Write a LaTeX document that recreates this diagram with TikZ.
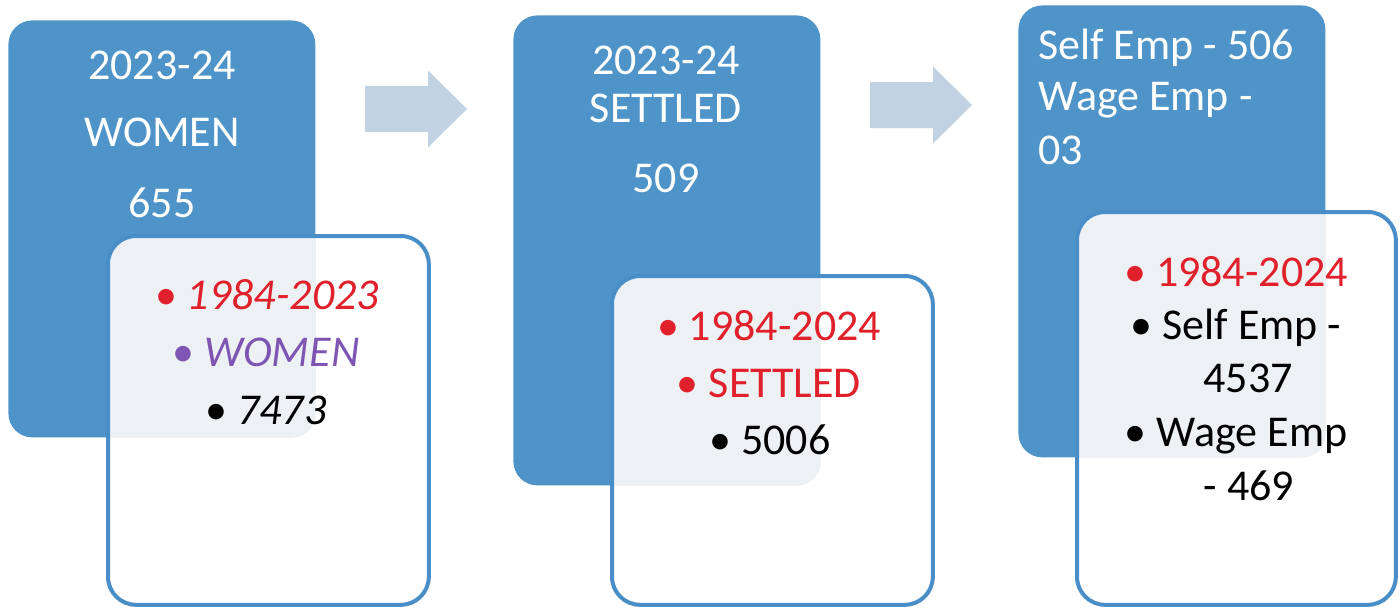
\documentclass[tikz,border=0pt]{standalone}
\usepackage{fontspec}
\setmainfont{Carlito}
\definecolor{boxblue}{HTML}{4F94C9}
\definecolor{edgeblue}{HTML}{4A8EC8}
\definecolor{arrowblue}{HTML}{C1D3E3}
\definecolor{txtred}{HTML}{E0202A}
\definecolor{txtpurple}{HTML}{7E55B3}
\definecolor{veil}{HTML}{EEF1F4}
\begin{document}
\begin{tikzpicture}[x=0.5pt,y=-0.5pt,
  bluebox/.style={draw=none,fill=boxblue,rounded corners=12pt,anchor=north west,inner sep=0pt,minimum width=153.5pt},
  whitebox/.style={draw=none,fill=white,rounded corners=14pt,anchor=north west,inner sep=0pt,minimum width=159pt},
  edge/.style={draw=edgeblue,line width=2pt,rounded corners=14pt},
  head/.style={text=white,font=\fontsize{22}{26}\selectfont,inner sep=0pt},
  item/.style={font=\fontsize{22}{26}\selectfont,inner sep=0pt},
  flowarrow/.style={fill=arrowblue,draw=none}]
\useasboundingbox (0,0) rectangle (1400,607);
% blue boxes
\node[bluebox,minimum height=208.5pt] (b1) at (8,20) {};
\node[bluebox,minimum height=235pt] (b2) at (513,15) {};
\node[bluebox,minimum height=226pt] (b3) at (1018,5) {};
% header texts
\node[head] (t11) at (162,65) {2023-24};
\node[head] (t12) at (162,132) {WOMEN};
\node[head] (t13) at (162,203) {655};
\node[head] (t21) at (666,60) {2023-24};
\node[head] (t22) at (666,108) {SETTLED};
\node[head] (t23) at (666,178) {509};
\node[head,anchor=west] (t31) at (1038,48) {Self Emp - 506};
\node[head,anchor=west] (t32) at (1038,100) {Wage Emp -};
\node[head,anchor=west] (t33) at (1038,150) {03};
% arrows
\coordinate (a1) at (365,109);
\coordinate (a2) at (870,105);
\foreach \c in {a1,a2}{
  \fill[flowarrow] ([yshift=11.5pt]\c) -- ++(63,0) -- ++(0,7.75pt) -- ([xshift=51pt]\c) -- ([xshift=31.5pt,yshift=-19.25pt]\c) -- ++(0,7.75pt) -- ([yshift=-11.5pt]\c) -- cycle;
}
% white boxes
\node[whitebox,minimum width=160pt,minimum height=184pt] (w1) at (108,236) {};
\node[whitebox,minimum width=160pt,minimum height=164pt] (w2) at (612,276) {};
\node[whitebox,minimum width=159pt,minimum height=196pt] (w3) at (1077,212) {};
\foreach \w/\b in {w1/b1,w2/b2,w3/b3}{
  \begin{scope}
    \clip[rounded corners=14pt] (\w.north west) rectangle (\w.south east);
    \fill[veil,rounded corners=12pt] (\b.north west) rectangle (\b.south east);
  \end{scope}
  \draw[edge] (\w.north west) rectangle (\w.south east);
}
% inner texts
\node[item,text=txtred] (i11) at (267,295) {\textbullet\ \textit{1984-2023}};
\node[item,text=txtpurple] (i12) at (266,352) {\textbullet\ \textit{WOMEN}};
\node[item,text=black] (i13) at (266,410) {\textbullet\ \textit{7473}};
\node[item,text=txtred] (i21) at (769,326) {\textbullet\ 1984-2024};
\node[item,text=txtred] (i22) at (769,383) {\textbullet\ SETTLED};
\node[item,text=black] (i23) at (770,440) {\textbullet\ 5006};
\node[item,text=txtred] (i31) at (1236,272) {\textbullet\ 1984-2024};
\node[item,text=black] (i32) at (1236,328) {\textbullet\ Self Emp -};
\node[item,text=black] (i33) at (1248,378) {4537};
\node[item,text=black] (i34) at (1236,436) {\textbullet\ Wage Emp};
\node[item,text=black] (i35) at (1249,486) {- 469};
\end{tikzpicture}
\end{document}
